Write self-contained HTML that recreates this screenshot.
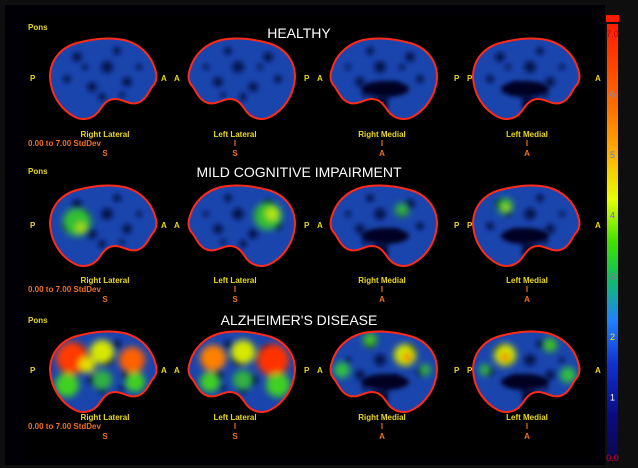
<!DOCTYPE html>
<html><head><meta charset="utf-8"><style>
html,body{margin:0;padding:0;background:#000;}
svg{display:block;}
text{font-family:"Liberation Sans",sans-serif;}
.lab{fill:#e8d820;font-size:8px;font-weight:bold;}
.org{fill:#f07020;font-size:8px;font-weight:bold;}
.ttl{fill:#fff;font-size:14px;}
</style></head><body>
<svg id="s" width="638" height="468" viewBox="0 0 638 468">
<defs>
<filter id="bl" x="-50%" y="-50%" width="200%" height="200%"><feGaussianBlur stdDeviation="3.5"/></filter>
<filter id="bl2" x="-50%" y="-50%" width="200%" height="200%"><feGaussianBlur stdDeviation="2.5"/></filter>
<linearGradient id="cb" x1="0" y1="0" x2="0" y2="1">
<stop offset="0" stop-color="#ff1a00"/><stop offset="0.18" stop-color="#ff6a00"/>
<stop offset="0.3" stop-color="#ffb000"/><stop offset="0.4" stop-color="#e8ff00"/>
<stop offset="0.5" stop-color="#40e000"/><stop offset="0.58" stop-color="#10c060"/>
<stop offset="0.68" stop-color="#2080ff"/><stop offset="0.78" stop-color="#1030d0"/>
<stop offset="0.9" stop-color="#0a0a80"/><stop offset="1" stop-color="#08084a"/>
</linearGradient>
</defs>
<rect x="0" y="0" width="638" height="468" fill="#0e0e0e"/>
<rect x="5" y="5" width="600" height="460" fill="#000006"/>
<rect x="25" y="15" width="570" height="445" fill="#000"/>
<g id="panels"></g>
<text class="ttl" x="299" y="38" text-anchor="middle">HEALTHY</text>
<text class="ttl" x="299" y="177" text-anchor="middle">MILD COGNITIVE IMPAIRMENT</text>
<text class="ttl" x="299" y="325" text-anchor="middle">ALZHEIMER'S DISEASE</text>
<rect x="606" y="15" width="13" height="7" fill="#ff1a00"/>
<rect x="607" y="24" width="11" height="437" fill="url(#cb)"/>
<g id="ticks"></g>
</svg>
<script>
const ticks=["7.0","6","5","4","3","2","1","0.0"];
const tickVals=[7,6,5,4,3,2,1,0];
const tickCols=["#c00000","#40a0ff","#4080ff","#a040ff","#d040d0","#ffe000","#ffffff","#e00000"];
const NS="http://www.w3.org/2000/svg";
function mk(t,a,p){const e=document.createElementNS(NS,t);for(const k in a)e.setAttribute(k,a[k]);p.appendChild(e);return e;}
const tg=document.getElementById('ticks');
function yv(v){return 458-(v/7)*424;}
ticks.forEach((t,i)=>{
  const e=mk('text',{x:612.5,y:yv(tickVals[i])+3,'text-anchor':'middle','font-size':'9',fill:tickCols[i]},tg);
  
  
  e.textContent=t;
});
const shape="M3,40 C3,22 15,10 30,6 C45,2 62,0 77,3 C93,7 104,18 108,32 C111,40 109,46 105,50 C101,56 98,64 90,66 C82,68 76,62 68,62 C60,62 56,68 52,74 C46,82 36,84 28,80 C16,74 4,60 3,40 Z";
const cols=[47,188,330,470];
const flip=[false,true,true,false];
const rows=[37,184,330];
// heat blobs in screen-local coords (x from left of panel)
const heat=[
 [[],[],[],[]],
 [[[30,38,14,'#30c030'],[34,44,5,'#b0e000']],[[80,32,14,'#30c030'],[84,30,6,'#c0e800']],[[72,26,7,'#30b040']],[[35,22,8,'#30c030'],[36,24,3,'#c0e000']]],
 [[[25,28,16,'#ff3a00'],[85,30,13,'#ff6000'],[55,22,12,'#d8e800'],[20,55,12,'#40d020'],[88,52,10,'#40d020'],[55,50,10,'#30b040'],[40,35,8,'#e0e000']],
  [[85,30,16,'#ff3000'],[25,28,13,'#ff8000'],[55,22,12,'#d8e800'],[90,55,12,'#40d020'],[22,52,10,'#40d020'],[55,50,10,'#30b040']],
  [[75,25,11,'#d0e800'],[77,27,4,'#ff4000'],[12,40,8,'#30c040'],[40,10,7,'#40c020'],[95,40,6,'#30b040']],
  [[35,25,11,'#d0e800'],[35,27,4,'#ff4000'],[98,45,8,'#30c040'],[80,15,7,'#40c020'],[15,40,6,'#30b040']]]
];
const pg=document.getElementById('panels');
const names=['right-lateral','left-lateral','right-medial','left-medial'];
const rn=['healthy','mci','ad'];
rows.forEach((y0,r)=>{cols.forEach((x0,c)=>{
  const g=mk('g',{transform:flip[c]?`translate(${x0+110},${y0}) scale(-1,1)`:`translate(${x0},${y0})`},pg);
  
  
  const cid='c'+r+c;
  const cp=mk('clipPath',{id:cid},g);mk('path',{d:shape},cp);
  const inner=mk('g',{'clip-path':`url(#${cid})`},g);
  mk('path',{d:shape,fill:'#1a45ad'},inner);
  const dk=mk('g',{filter:'url(#bl2)',opacity:'0.8'},inner);
  [[30,20,5],[60,30,6],[45,50,5],[80,45,5],[20,42,4],[70,14,4],[92,30,3],[55,60,4],[38,30,3],[75,58,3]].forEach(d=>{
    mk('circle',{cx:d[0],cy:d[1],r:d[2],fill:'#061040'},dk);
  });
  if(c>=2){mk('ellipse',{cx:55,cy:52,rx:24,ry:8,fill:'#020520',filter:'url(#bl2)'},inner);
           mk('ellipse',{cx:62,cy:68,rx:10,ry:8,fill:'#020520',filter:'url(#bl2)'},inner);}
  const hg=mk('g',{filter:'url(#bl)',transform:flip[c]?'translate(110,0) scale(-1,1)':''},inner);
  heat[r][c].forEach(h=>{mk('circle',{cx:h[0],cy:h[1],r:h[2],fill:h[3]},hg);});
  mk('path',{d:shape,fill:'none',stroke:'#ff2a1a','stroke-width':'2'},g);
});});
const lg=document.getElementById('panels');
const rowY=[30,174,323];
const pY=[81,228,373];
const labY=[137,283,420];
const colLab=["Right Lateral","Left Lateral","Right Medial","Left Medial"];
const colX=[105,235,382,527];
const sub=["S","S","A","A"];
function tx(cls,x,y,s,anchor,name){const e=mk('text',{class:cls,x:x,y:y,'text-anchor':anchor||'start'},lg);e.textContent=s;return e;}
rows.forEach((y0,r)=>{
  tx('lab',28,rowY[r],'Pons','start','pons-label');
  const py=pY[r];
  [[30,'P'],[161,'A'],[174,'A'],[304,'P'],[317,'A'],[454,'P'],[467,'P'],[595,'A']].forEach(p=>tx('lab',p[0],py,p[1],'start','orientation-label'));
  colLab.forEach((l,c)=>{
    tx('lab',colX[c],labY[r],l,'middle','view-label');
    if(c>0) tx('org',colX[c],labY[r]+9,'I','middle','view-marker');
    tx('org',colX[c],labY[r]+19,sub[c],'middle','view-axis-label');
  });
  tx('org',28,labY[r]+9,'0.00  to 7.00   StdDev','start','scale-range-label');
});
</script>
</body></html>
